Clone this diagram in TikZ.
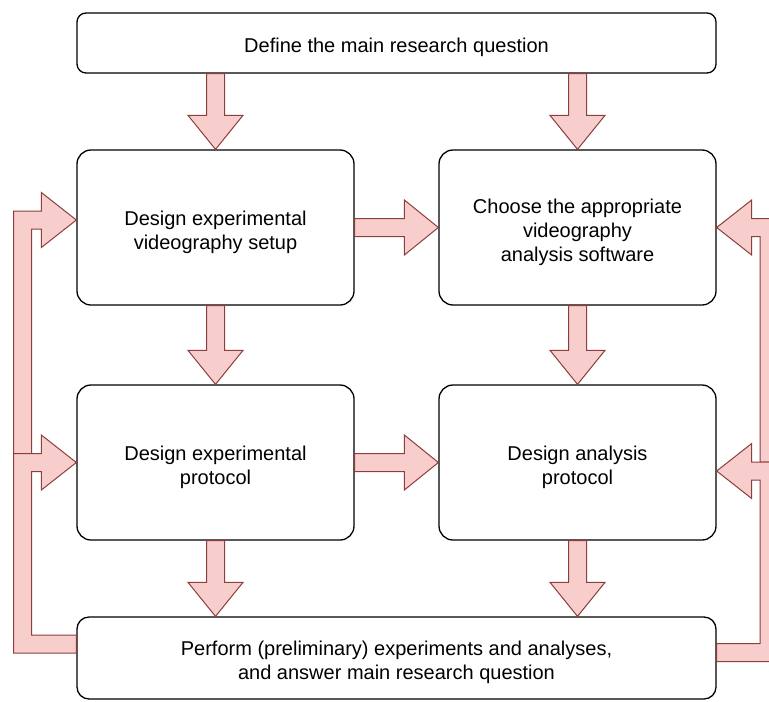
\documentclass[tikz,border=0pt]{standalone}
\usepackage{fontspec}
\setmainfont{Liberation Sans}
\usetikzlibrary{calc}
\definecolor{arrowfill}{HTML}{F8CECC}
\definecolor{arrowline}{HTML}{8B3E3B}

% straight block arrow from #1 to #2
\newcommand{\fatarrow}[2]{%
  \draw[fat] let \p1=#1, \p2=#2, \n1={atan2(\y2-\y1,\x2-\x1)}, \n2={veclen(\x2-\x1,\y2-\y1)} in
    (\p1) ++(\n1+90:4.5pt) -- ++(\n1:{(\n2-17)*1pt}) -- ++(\n1+90:9.25pt) -- (\p2)
    -- ($(\p2)+(\n1+180:17pt)+(\n1-90:13.75pt)$) -- ++(\n1+90:9.25pt)
    -- ++(\n1+180:{(\n2-17)*1pt}) -- cycle;}
% block arrow: start #1, along the rail #2, into #3 (#4 = side)
\newcommand{\elbowarrow}[4]{%
  \draw[fat] let \p1=#1, \p2=#3, \p3=#2, \n1={#4*4.5}, \n2={#4*17.5} in
    ({\x1},{\y1+4.5pt}) -- ({\x3+\n1*1pt},{\y1+4.5pt}) -- ({\x3+\n1*1pt},{\y2-4.5pt})
    -- ({\x2-\n2*1pt},{\y2-4.5pt}) -- ({\x2-\n2*1pt},{\y2-13.75pt}) -- (\p2)
    -- ({\x2-\n2*1pt},{\y2+13.75pt}) -- ({\x2-\n2*1pt},{\y2+4.5pt})
    -- ({\x3-\n1*1pt},{\y2+4.5pt}) -- ({\x3-\n1*1pt},{\y1-4.5pt}) -- ({\x1},{\y1-4.5pt}) -- cycle;}

\begin{document}
\begin{tikzpicture}[
    x=0.5pt, y=-0.5pt, % pixel grid, (0,0) top left
    box/.style={draw=black, line width=0.65pt, fill=white, rounded corners=7pt,
      minimum width=138.5pt, minimum height=77.5pt, inner sep=0pt, align=center,
      text height=24pt, font=\fontsize{10}{12}\selectfont},
    wide/.style={box, minimum width=319.5pt},
    fat/.style={fill=arrowfill, draw=arrowline, line width=0.5pt, line join=miter}
]
\useasboundingbox (0,0) rectangle (769,701);

\node[wide, minimum height=30pt, rounded corners=4.5pt, text height=12pt] (question) at (396.5,43) {Define the main research question};
\node[box] (setup) at (215.5,227.5) {Design experimental\\videography setup};
\node[box, text height=36pt] (software) at (577.5,227.5) {Choose the appropriate\\videography\\analysis software};
\node[box] (protocol) at (215.5,462.5) {Design experimental\\protocol};
\node[box] (analysis) at (577.5,462.5) {Design analysis\\protocol};
\node[wide, minimum height=41pt, rounded corners=6pt] (perform) at (396.5,658) {Perform (preliminary) experiments and analyses,\\and answer main research question};

\fatarrow{(question.south -| setup)}{(setup.north)}
\fatarrow{(question.south -| software)}{(software.north)}
\fatarrow{(setup.east)}{(software.west)}
\fatarrow{(setup.south)}{(protocol.north)}
\fatarrow{(software.south)}{(analysis.north)}
\fatarrow{(protocol.east)}{(analysis.west)}
\fatarrow{(protocol.south)}{(perform.north -| protocol)}
\fatarrow{(analysis.south)}{(perform.north -| analysis)}

% feedback loops
\coordinate (railL) at (22.5,0);
\coordinate (railR) at (769,0);
\coordinate (inL1) at ($(setup.west)+(0,-7.5)$);
\coordinate (inL2) at (protocol.west);
\coordinate (outL) at ($(perform.west)+(0,-14)$);
\coordinate (inR1) at (software.east);
\coordinate (inR2) at ($(analysis.east)+(0,8.5)$);
\coordinate (outR) at ($(perform.east)+(0,-5.5)$);
\elbowarrow{(railL |- inL2)}{(railL)}{(inL1)}{1}
\elbowarrow{(outL)}{(railL)}{(inL2)}{1}
\elbowarrow{(railR |- inR2)}{(railR)}{(inR1)}{-1}
\elbowarrow{(outR)}{(railR)}{(inR2)}{-1}
\end{tikzpicture}
\end{document}
